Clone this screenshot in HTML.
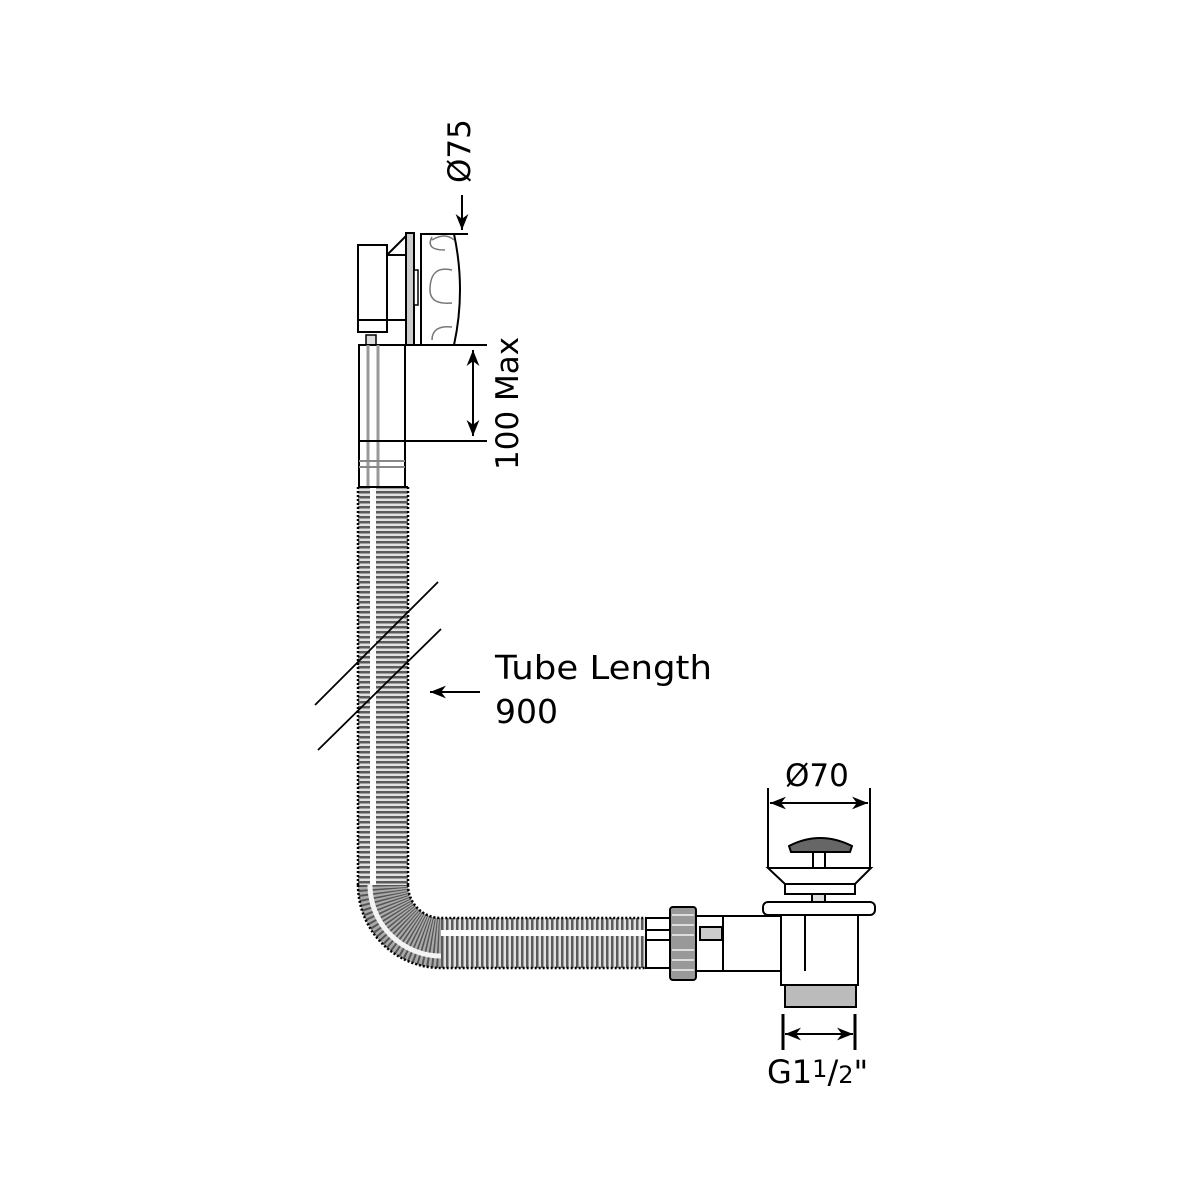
<!DOCTYPE html>
<html><head><meta charset="utf-8"><style>
html,body{margin:0;padding:0;background:#fff}
svg{display:block}
text{font-family:"DejaVu Sans","Liberation Sans",sans-serif;fill:#000}
</style></head><body>
<svg width="1200" height="1200" viewBox="0 0 1200 1200" xmlns="http://www.w3.org/2000/svg">
<defs>
<pattern id="hs" width="10" height="5" patternUnits="userSpaceOnUse">
<rect width="10" height="5" fill="#e0e0e0"/><rect y="1" width="10" height="2.5" fill="#5a5a5a"/>
</pattern>
<pattern id="vs" width="5" height="10" patternUnits="userSpaceOnUse">
<rect width="5" height="10" fill="#e0e0e0"/><rect x="1" width="2.5" height="10" fill="#5a5a5a"/>
</pattern>
<marker id="ah" viewBox="0 0 10 10" refX="10" refY="5" markerWidth="8" markerHeight="8" orient="auto-start-reverse"><path d="M0,1 L10,5 L0,9 L3,5z" fill="#000"/></marker>
</defs>
<g stroke="#000" fill="none" stroke-width="2">
<rect x="358" y="245" width="29" height="87" fill="#fff"/>
<line x1="358" y1="320" x2="387" y2="320"/>
<rect x="387" y="255" width="19" height="65" fill="#fff"/>
<line x1="387" y1="255" x2="408" y2="234"/>
<rect x="406" y="233" width="8" height="112" fill="#ccc"/>
<rect x="414" y="270" width="4" height="35" fill="#fff" stroke-width="1.5"/>
<path d="M421,234 L454,234 Q466,290 454,345 L421,345 Z" fill="#fff"/>
<path d="M432,240 Q445,232 454,240 M432,237 Q425,250 445,250" stroke="#777" stroke-width="1.5"/>
<path d="M452,270 Q430,265 430,290 Q430,305 452,303" stroke="#777" stroke-width="1.5"/>
<path d="M452,327 Q432,325 432,340" stroke="#777" stroke-width="1.5"/>
<line x1="454" y1="234" x2="468" y2="234"/>
<rect x="366" y="335" width="10" height="16" fill="#ddd" stroke-width="1.5"/>
<line x1="358" y1="345" x2="487" y2="345"/>
<rect x="359" y="345" width="46" height="142" fill="#fff"/>
<line x1="368" y1="345" x2="368" y2="487" stroke="#999" stroke-width="3"/>
<line x1="378" y1="345" x2="378" y2="487" stroke="#999" stroke-width="3"/>
<line x1="359" y1="441" x2="487" y2="441"/>
<line x1="359" y1="461" x2="405" y2="461" stroke="#888"/>
<line x1="359" y1="467" x2="405" y2="467" stroke="#888"/>
<line x1="473" y1="350" x2="473" y2="436" marker-start="url(#ah)" marker-end="url(#ah)"/>
<line x1="462" y1="195" x2="462" y2="230" marker-end="url(#ah)"/>
</g>
<rect x="358" y="487" width="50" height="398" fill="url(#hs)"/>
<rect x="370" y="487" width="6" height="398" fill="#fff"/>
<path d="M383,885 A58,58 0 0 0 441,943" fill="none" stroke="#aaa" stroke-width="50"/>
<path d="M383,885 A58,58 0 0 0 441,943" fill="none" stroke="#555" stroke-width="50" stroke-dasharray="1.5 2"/>
<path d="M370,885 A71,71 0 0 0 441,956" fill="none" stroke="#f4f4f4" stroke-width="5"/>
<rect x="441" y="918" width="205" height="50" fill="url(#vs)"/>
<rect x="441" y="930" width="205" height="6" fill="#fff"/>
<g stroke="#000" fill="none" stroke-width="2.5" stroke-dasharray="2 2">
<line x1="358" y1="487" x2="358" y2="885"/>
<line x1="408" y1="487" x2="408" y2="885"/>
<path d="M358,885 A83,83 0 0 0 441,968 L646,968"/>
<path d="M408,885 A33,33 0 0 0 441,918 L646,918"/>
</g>
<g stroke="#000" fill="none" stroke-width="2">
<line x1="358" y1="487" x2="408" y2="487"/>
<line x1="315" y1="705" x2="438" y2="582" stroke-width="1.8"/>
<line x1="318" y1="750" x2="441" y2="629" stroke-width="1.8"/>
<line x1="480" y1="692" x2="430" y2="692" marker-end="url(#ah)"/>
<rect x="646" y="918" width="24" height="50" fill="#fff"/>
<line x1="646" y1="930" x2="670" y2="930"/>
<line x1="646" y1="940" x2="670" y2="940"/>
<rect x="670" y="907" width="26" height="73" rx="3" fill="#999"/>
<line x1="672" y1="915" x2="694" y2="915" stroke="#ddd"/>
<line x1="672" y1="925" x2="694" y2="925" stroke="#ddd"/>
<line x1="672" y1="935" x2="694" y2="935" stroke="#ddd"/>
<line x1="672" y1="950" x2="694" y2="950" stroke="#ddd"/>
<line x1="672" y1="960" x2="694" y2="960" stroke="#ddd"/>
<line x1="672" y1="970" x2="694" y2="970" stroke="#ddd"/>
<line x1="696" y1="916" x2="723" y2="916"/>
<line x1="696" y1="971" x2="723" y2="971"/>
<rect x="700" y="927" width="22" height="13" fill="#ccc"/>
<rect x="723" y="916" width="82" height="55" fill="#fff"/>
<rect x="781" y="915" width="77" height="70" fill="#fff"/>
<line x1="805" y1="915" x2="805" y2="971"/>
<rect x="785" y="985" width="71" height="22" fill="#bbb"/>
<rect x="763" y="902" width="112" height="13" rx="5" fill="#fff"/>
<rect x="812" y="894" width="13" height="8" fill="#ddd"/>
<path d="M768,868 L871,868 L855,884 L785,884 Z" fill="#fff"/>
<rect x="785" y="884" width="70" height="10" fill="#fff"/>
<rect x="813" y="851" width="12" height="17" fill="#fff"/>
<path d="M789,846 Q820,830 852,846 L850,852 L791,852 Z" fill="#666"/>
<line x1="768" y1="788" x2="768" y2="868"/>
<line x1="870" y1="788" x2="870" y2="868"/>
<line x1="770" y1="803" x2="868" y2="803" marker-start="url(#ah)" marker-end="url(#ah)"/>
<line x1="783" y1="1014" x2="783" y2="1050" stroke-width="3"/>
<line x1="855" y1="1014" x2="855" y2="1050" stroke-width="3"/>
<line x1="785" y1="1034" x2="853" y2="1034" marker-start="url(#ah)" marker-end="url(#ah)"/>
</g>
<text x="495" y="679" font-size="33" textLength="217" lengthAdjust="spacingAndGlyphs">Tube Length</text>
<text x="495" y="723" font-size="33">900</text>
<text x="785" y="786" font-size="31">Ø70</text>
<text x="767" y="1083" font-size="32">G1<tspan font-size="24" dy="-6">1</tspan><tspan font-size="32" dy="6">/</tspan><tspan font-size="24">2</tspan><tspan font-size="32">"</tspan></text>
<text transform="translate(470,183) rotate(-90)" font-size="31">Ø75</text>
<text transform="translate(518,470) rotate(-90)" font-size="31">100 Max</text>
</svg>
</body></html>
